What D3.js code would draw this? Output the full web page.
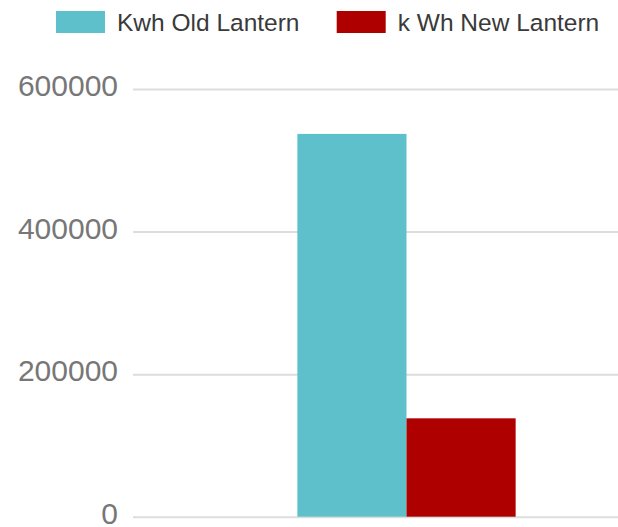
<!DOCTYPE html>
<html>
<head>
<meta charset="utf-8">
<script src="https://cdn.jsdelivr.net/npm/d3@7"></script>
<style>
  html, body { margin: 0; padding: 0; background: #ffffff; }
  svg { display: block; }
  text { font-family: "Liberation Sans", Arial, sans-serif; }
</style>
</head>
<body>
<svg id="chart" width="618" height="527"></svg>
<script>
// Energy use per lantern type
const categories = ["Lantern"];
const seriesNames = ["Kwh Old Lantern", "k Wh New Lantern"];
const oldLantern = [537000];
const newLantern = [138000];
const tickValues = [0, 200000, 400000, 600000];
const seriesColors = ["#5dc0cb", "#af0000"];

const svg = d3.select("#chart");
const W = 618, H = 527;
const plot = { left: 133, right: 680, top: 89, bottom: 516.7 };

const y = d3.scaleLinear().domain([0, 600000]).range([plot.bottom, plot.top]);

const x0 = d3.scaleBand()
  .domain(categories)
  .range([plot.left, plot.right])
  .paddingInner(0)
  .paddingOuter(0.753);

const x1 = d3.scaleBand()
  .domain(seriesNames)
  .range([0, x0.bandwidth()])
  .padding(0);

// gridlines
const grid = svg.append("g")
  .attr("transform", `translate(${plot.left},0)`)
  .call(d3.axisLeft(y).tickValues(tickValues).tickSize(-(W - plot.left)).tickFormat(""));
grid.select(".domain").remove();
grid.selectAll(".tick line").attr("stroke", "#dddddd").attr("stroke-width", 2);

// y-axis labels, sitting slightly above their gridlines
const yAxis = svg.append("g")
  .attr("transform", `translate(118,-3)`)
  .call(d3.axisLeft(y).tickValues(tickValues).tickSize(0).tickPadding(0).tickFormat(d3.format("d")));
yAxis.select(".domain").remove();
yAxis.selectAll(".tick text")
  .attr("fill", "#777777")
  .attr("font-size", 30)
  .attr("font-family", "'Liberation Sans', Arial, sans-serif");

// bars
const rows = categories.map((c, i) => ({
  category: c,
  values: [
    { series: seriesNames[0], value: oldLantern[i] },
    { series: seriesNames[1], value: newLantern[i] }
  ]
}));

const color = d3.scaleOrdinal().domain(seriesNames).range(seriesColors);

svg.append("g")
  .selectAll("g")
  .data(rows)
  .join("g")
  .attr("transform", d => `translate(${x0(d.category)},0)`)
  .selectAll("rect")
  .data(d => d.values)
  .join("rect")
  .attr("x", d => x1(d.series))
  .attr("width", x1.bandwidth())
  .attr("y", d => y(d.value))
  .attr("height", d => y(0) - y(d.value))
  .attr("fill", d => color(d.series));

// legend
const legendX = [56, 336.7];
const legend = svg.append("g")
  .selectAll("g")
  .data(seriesNames)
  .join("g")
  .attr("transform", (d, i) => `translate(${legendX[i]},11)`);
legend.append("rect")
  .attr("width", 49)
  .attr("height", 22)
  .attr("fill", d => color(d));
legend.append("text")
  .attr("x", 61)
  .attr("y", 11)
  .attr("dy", "0.35em")
  .attr("font-size", 24.5)
  .attr("fill", "#3a3a3a")
  .text(d => d);
</script>
</body>
</html>
